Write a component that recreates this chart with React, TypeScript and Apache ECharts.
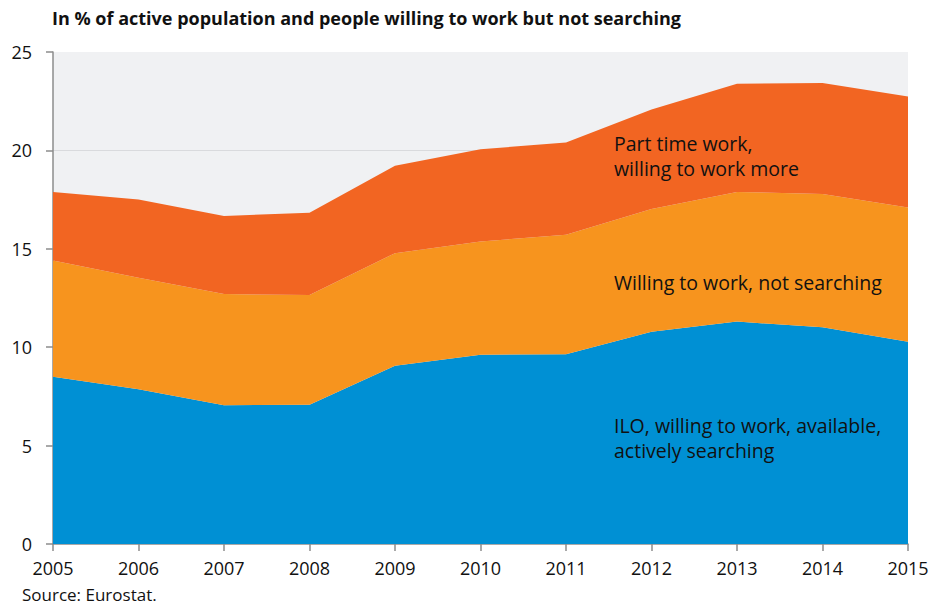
import React, { useEffect, useRef } from "react";
import * as echarts from "echarts";

const years = ["2005", "2006", "2007", "2008", "2009", "2010", "2011", "2012", "2013", "2014", "2015"];
const iloSearching = [8.5, 7.86, 7.05, 7.08, 9.06, 9.62, 9.64, 10.79, 11.3, 11.01, 10.28];
const willingNotSearching = [5.9, 5.67, 5.65, 5.57, 5.72, 5.75, 6.07, 6.23, 6.59, 6.78, 6.82];
const partTimeMore = [3.49, 3.98, 3.97, 4.18, 4.44, 4.69, 4.69, 5.06, 5.5, 5.63, 5.64];

const titleText = "In % of active population and people willing to work but not searching";
const sourceText = "Source: Eurostat.";
const labelPartTime = "Part time work,\nwilling to work more";
const labelNotSearching = "Willing to work, not searching";
const labelIlo = "ILO, willing to work, available,\nactively searching";

const FONT = "'Open Sans', 'Noto Sans', sans-serif";

export default function App() {
  const ref = useRef<HTMLDivElement>(null);
  useEffect(() => {
    if (!ref.current) return;
    const chart = echarts.init(ref.current, null, { renderer: "svg" });
    const areaSeries = (name: string, data: number[], color: string) => ({
      name,
      type: "line",
      stack: "total",
      data,
      symbol: "none",
      lineStyle: { width: 0 },
      areaStyle: { color, opacity: 1 },
      itemStyle: { color },
    });
    chart.setOption({
      animation: false,
      textStyle: { fontFamily: FONT },
      grid: {
        left: 53,
        right: 26,
        top: 52,
        bottom: 63,
        show: true,
        backgroundColor: "#f0f1f3",
        borderWidth: 0,
      },
      xAxis: {
        type: "category",
        data: years,
        boundaryGap: false,
        axisLine: { lineStyle: { color: "#8c8c8c", width: 1.5 } },
        axisTick: { show: true, length: 7, lineStyle: { color: "#8c8c8c", width: 1.5 } },
        axisLabel: { color: "#111111", fontSize: 18, margin: 15, fontFamily: FONT },
      },
      yAxis: {
        type: "value",
        min: 0,
        max: 25,
        interval: 5,
        axisLine: { show: true, lineStyle: { color: "#8c8c8c", width: 1.5 } },
        axisTick: { show: true, length: 7, lineStyle: { color: "#8c8c8c", width: 1.5 } },
        axisLabel: { color: "#111111", fontSize: 18, margin: 21, fontFamily: FONT },
        splitLine: {
          show: true,
          lineStyle: { color: ["none", "#d9dadd", "#d9dadd", "#d9dadd", "#d9dadd", "none"], width: 1 },
        },
      },
      series: [
        areaSeries("ILO", iloSearching, "#0090d4"),
        areaSeries("Not searching", willingNotSearching, "#f7941e"),
        areaSeries("Part time", partTimeMore, "#f26522"),
      ],
      graphic: [
        {
          type: "text",
          left: 52,
          top: 9,
          z: 100,
          style: { text: titleText, font: `bold 18px ${FONT}`, fill: "#111111" },
        },
        {
          type: "text",
          left: 22,
          top: 586,
          z: 100,
          style: { text: sourceText, font: `17px ${FONT}`, fill: "#111111" },
        },
        {
          type: "text",
          left: 614,
          top: 131,
          z: 100,
          style: { text: labelPartTime, font: `19.5px ${FONT}`, fill: "#111111", lineHeight: 25 },
        },
        {
          type: "text",
          left: 614,
          top: 270,
          z: 100,
          style: { text: labelNotSearching, font: `19.5px ${FONT}`, fill: "#111111", lineHeight: 25 },
        },
        {
          type: "text",
          left: 614,
          top: 413,
          z: 100,
          style: { text: labelIlo, font: `19.5px ${FONT}`, fill: "#111111", lineHeight: 25 },
        },
      ],
    });
    return () => chart.dispose();
  }, []);
  return (
    <div
      ref={ref}
      style={{ position: "fixed", left: 0, top: 0, width: 934, height: 607, background: "#ffffff" }}
    />
  );
}
